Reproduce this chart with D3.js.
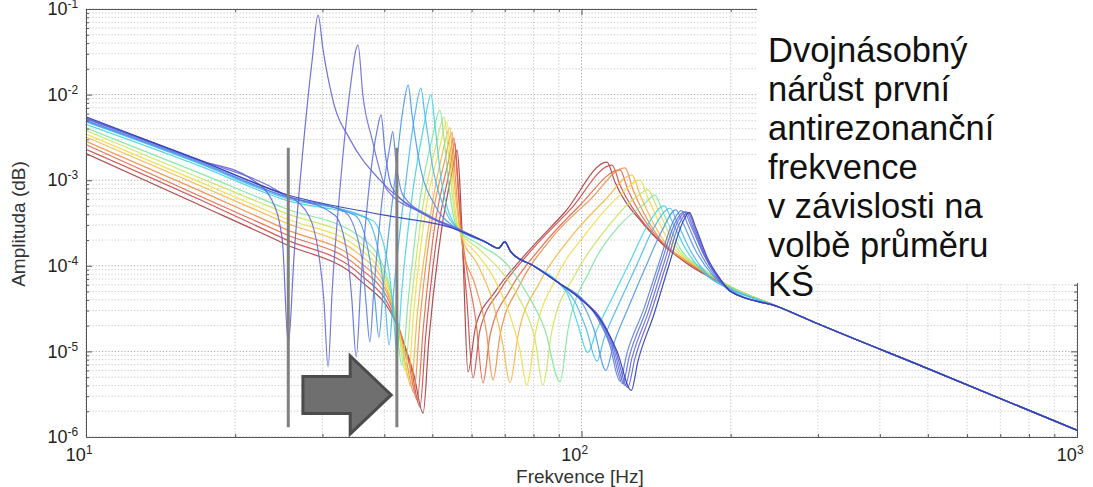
<!DOCTYPE html>
<html>
<head>
<meta charset="utf-8">
<script src="https://cdn.jsdelivr.net/npm/d3@7"></script>
<style>
  body { margin: 0; background: #fff; }
  svg { display: block; font-family: "Liberation Sans", Arial, sans-serif; }
</style>
</head>
<body>
<svg id="chart" width="1093" height="487"></svg>
<script>
// ---- data (frequency in Hz, amplitude) ----
const xDecades = [10, 100, 1000];
const yDecades = [1e-6, 1e-5, 1e-4, 1e-3, 1e-2, 1e-1];

// shared piece of the blue curves between the first and second mode
const trunkHz = [64, 68, 70, 72, 80, 90];
const trunkAmp = [1.9e-4, 1.6e-4, 1.9e-4, 1.45e-4, 1.0e-4, 6.3e-5];

// shared high-frequency tail
const tailHz = [250, 300, 500, 1000];
const tailAmp = [3.3e-5, 2.1e-5, 6.3e-6, 1.2e-6];

// blue/cyan curves (0..7): low part up to ~56 Hz
const blueLowHz = [
  [10, 17, 25, 40, 55],
  [10, 17, 21.4, 23.7, 24.9, 25.6, 26.3, 27.4, 28.6, 29.4, 30.1, 31.5, 34.1, 39.2, 47.2, 55],
  [10, 17, 24.6, 27.7, 29.4, 30.2, 30.8, 31.4, 32.6, 34.1, 35.4, 36.2, 37.8, 40.5, 47.2, 55.5],
  [10, 17, 25.2, 31.8, 33.8, 34.4, 35.1, 35.9, 37.4, 38.7, 39.4, 40.1, 41.5, 48.3, 55.8],
  [10, 17, 25.2, 33.3, 36.1, 36.7, 37.4, 38.1, 39.8, 41.1, 41.6, 42.2, 43.6, 49.5, 56.1],
  [10, 17, 25.2, 34.9, 37.4, 38.3, 39.0, 39.9, 42.0, 43.6, 44.7, 45.5, 47.2, 50.6, 55.8],
  [10, 17, 25.2, 36.6, 39.2, 40.1, 40.9, 41.8, 44.0, 46.1, 47.4, 48.3, 50.2, 53.0, 56.1],
  [10, 17, 25.2, 37.8, 40.7, 41.6, 42.4, 43.4, 45.7, 48.1, 49.7, 50.6, 52.3, 56.1]
];
const blueLowAmp = [
  [5.5e-3, 1.7e-3, 7e-4, 3.9e-4, 2.75e-4],
  [5.3e-3, 1.7e-3, 1.06e-3, 5.9e-4, 2.0e-4, 1.2e-5, 1.34e-4, 2.25e-3, 2.5e-2, 8.5e-2, 3.3e-2, 8.6e-3, 3.0e-3, 1.0e-3, 4.25e-4, 2.75e-4],
  [5.3e-3, 1.72e-3, 7.3e-4, 4.5e-4, 1.53e-4, 4.0e-5, 6.6e-6, 5.2e-5, 8.8e-4, 1.13e-2, 3.8e-2, 9.9e-3, 3.0e-3, 7.7e-4, 4.25e-4, 2.75e-4],
  [5.2e-3, 1.68e-3, 6.7e-4, 3.9e-4, 1.17e-4, 4.0e-5, 8.6e-6, 6.8e-5, 1.0e-3, 3.9e-3, 5.8e-3, 2.25e-3, 8.1e-4, 4.0e-4, 2.75e-4],
  [5.0e-3, 1.63e-3, 6.5e-4, 4.25e-4, 1.17e-4, 4.0e-5, 1.29e-5, 5.2e-5, 7.7e-4, 2.6e-3, 3.7e-3, 1.72e-3, 6.7e-4, 3.8e-4, 2.75e-4],
  [4.9e-3, 1.59e-3, 6.4e-4, 3.9e-4, 1.17e-4, 4.0e-5, 1.47e-5, 6.8e-5, 1.0e-3, 6.6e-3, 1.29e-2, 5.8e-3, 1.5e-3, 5.1e-4, 2.75e-4],
  [4.8e-3, 1.55e-3, 6.2e-4, 3.7e-4, 1.17e-4, 4.0e-5, 1.19e-5, 5.2e-5, 7.7e-4, 5.8e-3, 1.19e-2, 5.8e-3, 1.32e-3, 4.5e-4, 2.75e-4],
  [4.5e-3, 1.46e-3, 5.9e-4, 3.4e-4, 1.02e-4, 3.5e-5, 9.8e-6, 5.2e-5, 7.7e-4, 4.4e-3, 9.9e-3, 4.4e-3, 8.8e-4, 2.8e-4]
];

// blue/cyan curves (0..7): second antiresonance + resonance
const blueHighHz = [
  [100, 110, 118, 126, 130, 140, 150, 160, 165, 170, 180, 190, 200],
  [100, 110, 117, 124, 128, 138, 148, 158, 164, 169, 179, 190, 200],
  [100, 109, 116, 122.5, 126.5, 136.5, 146.5, 156.5, 162.5, 167.5, 178, 190, 200],
  [100, 108, 115, 121, 125, 135, 145, 155, 161, 166, 177, 190, 200],
  [100, 107, 114, 119.5, 123.5, 133.5, 143.5, 153.5, 159, 164, 175, 190, 200],
  [100, 106, 112, 116, 125, 135, 145, 155, 160, 170, 185, 200],
  [97, 102, 107.5, 111, 120, 130, 140, 151, 156, 166, 182, 200],
  [94, 98, 103, 107, 116, 126, 136, 147, 152, 162, 180, 200]
];
const blueHighAmp = [
  [4.0e-5, 2.2e-5, 1.0e-5, 3.5e-6, 7.7e-6, 2.7e-5, 1.0e-4, 3.2e-4, 4.2e-4, 2.8e-4, 1.2e-4, 7.2e-5, 5.0e-5],
  [4.0e-5, 2.3e-5, 1.05e-5, 3.8e-6, 8e-6, 2.8e-5, 1.0e-4, 3.2e-4, 4.2e-4, 2.8e-4, 1.2e-4, 7.0e-5, 5.0e-5],
  [4.1e-5, 2.4e-5, 1.1e-5, 4.0e-6, 8.5e-6, 2.9e-5, 1.05e-4, 3.3e-4, 4.3e-4, 2.9e-4, 1.25e-4, 6.9e-5, 5.0e-5],
  [4.1e-5, 2.5e-5, 1.15e-5, 4.2e-6, 9e-6, 3e-5, 1.1e-4, 3.3e-4, 4.3e-4, 3e-4, 1.3e-4, 6.8e-5, 5e-5],
  [4.2e-5, 2.6e-5, 1.2e-5, 4.5e-6, 9.5e-6, 3.1e-5, 1.1e-4, 3.4e-4, 4.4e-4, 3.0e-4, 1.3e-4, 6.6e-5, 5.0e-5],
  [3.8e-5, 1.8e-5, 6e-6, 1.2e-5, 3.5e-5, 1.0e-4, 2.5e-4, 4.5e-4, 3.2e-4, 1.5e-4, 7.5e-5, 5.2e-5],
  [3.8e-5, 1.9e-5, 7.7e-6, 1.4e-5, 4e-5, 1.1e-4, 2.8e-4, 4.7e-4, 3.2e-4, 1.5e-4, 7.3e-5, 5.3e-5],
  [4.5e-5, 2.2e-5, 9.7e-6, 1.7e-5, 4.5e-5, 1.2e-4, 3.0e-4, 5.0e-4, 3.4e-4, 1.6e-4, 7.5e-5, 5.4e-5]
];

// green..dark red curves (8..15), 10-200 Hz
const warmHz = [
  [10, 17, 25.2, 35.7, 40.1, 42.2, 43.4, 44.7, 47.2, 49.9, 51.8, 52.8, 54.3, 56.1, 62.4, 70.1, 76.9, 84.4, 90.5, 93.9, 104, 119.6, 134.4, 140.7, 145.4, 158.1, 177.6, 202],
  [10, 17, 25.2, 35.7, 40.1, 42.6, 44.0, 45.3, 47.9, 50.9, 52.8, 53.8, 55.0, 56.3, 62.4, 68.5, 75.1, 80.6, 83.6, 87.2, 97.0, 111.6, 128.2, 136.2, 141.4, 154.4, 175.9, 202],
  [10, 17, 25.2, 35.7, 40.5, 43.0, 44.7, 45.9, 48.5, 51.6, 53.5, 54.5, 55.5, 56.6, 61.8, 66.9, 71.7, 75.1, 77.6, 80.6, 88.4, 101.6, 119.6, 131.3, 136.2, 149.5, 173.5, 201],
  [10, 17, 25.2, 35.7, 40.7, 43.4, 45.3, 46.6, 49.2, 52.3, 54.3, 55.0, 56.1, 57.1, 61.8, 66.0, 69.4, 71.7, 74.5, 82.5, 94.8, 111.6, 126.4, 131.3, 145.4, 171.9, 200],
  [10, 17, 25.2, 35.7, 41.1, 44.0, 45.9, 47.2, 49.9, 53.0, 54.8, 55.5, 56.6, 57.7, 61.0, 64.2, 66.3, 68.5, 75.1, 86.4, 104, 122.4, 127.1, 142.0, 170.3, 199.4],
  [10, 17, 25.2, 35.7, 41.5, 44.7, 46.6, 47.9, 50.6, 53.8, 55.3, 56.1, 57.1, 58.5, 61.2, 63.3, 65.4, 71.7, 82.5, 99.3, 119.6, 124.1, 139.4, 168.7, 199.4],
  [10, 17, 25.2, 35.7, 41.8, 45.3, 47.2, 48.5, 51.3, 54.3, 55.5, 56.3, 57.4, 58.7, 60.4, 62.4, 68.5, 78.7, 94.8, 115.2, 119.6, 136.2, 165.6, 199.4],
  [10, 17, 25.2, 35.7, 42.2, 45.9, 47.9, 49.2, 52.0, 54.8, 56.1, 56.9, 57.7, 59.0, 61.2, 66.9, 76.9, 92.6, 112.6, 116.8, 133.1, 161.8, 199.4]
];
const warmAmp = [
  [4.1e-3, 1.2e-3, 4.7e-4, 2.2e-4, 8.9e-5, 2.3e-5, 6.9e-6, 4.0e-5, 5.9e-4, 3.0e-3, 6.6e-3, 3.0e-3, 6.7e-4, 2.75e-4, 1.75e-4, 1.1e-4, 5.2e-5, 1.78e-5, 4.4e-6, 1.78e-5, 8.9e-5, 3.0e-4, 5.4e-4, 6.7e-4, 4.5e-4, 1.6e-4, 8.9e-5, 5.5e-5],
  [3.8e-3, 1.06e-3, 4.15e-4, 1.85e-4, 7.8e-5, 2.0e-5, 6.1e-6, 3.5e-5, 5.1e-4, 2.6e-3, 5.5e-3, 2.25e-3, 5.9e-4, 2.75e-4, 1.53e-4, 8.9e-5, 4.0e-5, 1.36e-5, 4.05e-6, 1.78e-5, 7.8e-5, 2.6e-4, 6.2e-4, 7.7e-4, 5.1e-4, 1.75e-4, 8.9e-5, 5.5e-5],
  [3.45e-3, 9.5e-4, 3.6e-4, 1.57e-4, 6.0e-5, 1.56e-5, 4.9e-6, 3.05e-5, 4.5e-4, 2.25e-3, 4.8e-3, 1.72e-3, 5.1e-4, 2.6e-4, 1.34e-4, 6.8e-5, 2.65e-5, 1.04e-5, 4.05e-6, 1.56e-5, 6.8e-5, 2.3e-4, 6.7e-4, 1.0e-3, 6.2e-4, 2.0e-4, 9.4e-5, 5.65e-5],
  [3.2e-3, 8.6e-4, 3.2e-4, 1.34e-4, 4.95e-5, 1.19e-5, 3.95e-6, 2.65e-5, 3.0e-4, 1.97e-3, 4.1e-3, 1.5e-3, 4.5e-4, 2.3e-4, 1.02e-4, 4.0e-5, 1.19e-5, 4.3e-6, 1.56e-5, 6.5e-5, 2.1e-4, 5.9e-4, 1.15e-3, 6.7e-4, 2.1e-4, 9.4e-5, 5.65e-5],
  [2.85e-3, 7.5e-4, 2.7e-4, 1.1e-4, 4.0e-5, 9.8e-6, 3.3e-6, 2.3e-5, 3.4e-4, 1.72e-3, 3.6e-3, 1.32e-3, 3.4e-4, 1.53e-4, 6.0e-5, 1.78e-5, 4.6e-6, 1.56e-5, 6.0e-5, 2.0e-4, 5.9e-4, 1.39e-3, 7.7e-4, 2.3e-4, 9.7e-5, 5.65e-5],
  [2.6e-3, 6.5e-4, 2.35e-4, 9.4e-5, 3.2e-5, 7.9e-6, 2.7e-6, 1.78e-5, 3.0e-4, 1.59e-3, 3.1e-3, 1.15e-3, 3.0e-4, 1.02e-4, 2.3e-5, 4.3e-6, 1.56e-5, 5.2e-5, 1.6e-4, 5.1e-4, 1.32e-3, 7.7e-4, 2.5e-4, 1.0e-4, 5.65e-5],
  [2.3e-3, 5.9e-4, 2.05e-4, 8.0e-5, 2.6e-5, 6.4e-6, 2.25e-6, 1.56e-5, 2.6e-4, 1.39e-3, 2.7e-3, 1.0e-3, 2.0e-4, 4.0e-5, 4.9e-6, 1.78e-5, 5.2e-5, 1.45e-4, 4.5e-4, 1.5e-3, 8.8e-4, 2.75e-4, 1.05e-4, 5.65e-5],
  [2.05e-3, 5.1e-4, 1.8e-4, 6.8e-5, 2.15e-5, 5.3e-6, 1.9e-6, 1.36e-5, 2.3e-4, 1.25e-3, 2.25e-3, 7.7e-4, 1.17e-4, 5.75e-6, 2.0e-5, 4.95e-5, 1.34e-4, 4.25e-4, 1.63e-3, 9.5e-4, 3.1e-4, 1.1e-4, 5.65e-5]
];

const curveColors = [
  "#2c3cb4", "#6262d4", "#6a6ad8", "#5c70dc", "#5a80e0", "#4a98ea", "#44b8f0", "#40d4e4",
  "#80e4a0", "#c8e458", "#f2dc40", "#f6b440", "#f08c44", "#e46444", "#cc4848", "#a43c3c"
];

// annotation: the two marker lines and the arrow between them
const markerHz = [25.6, 42.4];
const markerAmp = [2.4e-3, 1.3e-6];
const arrowHz = [27.4, 41.3];
const arrowAmp = 3.1e-6;

const noteLines = [
  "Dvojnásobný", "nárůst první", "antirezonanční", "frekvence",
  "v závislosti na", "volbě průměru", "KŠ"
];

// ---- build series ----
const series = [];
blueLowHz.forEach((lowHz, i) => {
  const hz = lowHz.concat(trunkHz, blueHighHz[i], tailHz);
  const amp = blueLowAmp[i].concat(trunkAmp, blueHighAmp[i], tailAmp);
  series.push({ color: curveColors[i], points: d3.zip(hz, amp) });
});
warmHz.forEach((hz, i) => {
  const pts = d3.zip(hz.concat(tailHz), warmAmp[i].concat(tailAmp));
  series.push({ color: curveColors[8 + i], points: pts });
});

// ---- layout ----
const plot = { left: 86, right: 1077, top: 9, bottom: 437 };
const svg = d3.select("#chart");

const x = d3.scaleLog().domain([10, 1000]).range([plot.left, plot.right]);
const y = d3.scaleLog().domain([1e-6, 1e-1]).range([plot.bottom, plot.top]);

const minorX = [];
[10, 100].forEach((d) => { for (let k = 2; k <= 9; k++) minorX.push(d * k); });
const minorY = [];
yDecades.slice(0, -1).forEach((d) => { for (let k = 2; k <= 9; k++) minorY.push(d * k); });

// grid
const grid = svg.append("g").attr("class", "grid");
grid.selectAll(".gx")
  .data(minorX.concat(xDecades))
  .join("line")
  .attr("x1", x).attr("x2", x)
  .attr("y1", plot.top).attr("y2", plot.bottom)
  .attr("stroke", (d) => (xDecades.includes(d) ? "#a8a8a8" : "#c8c8c8"))
  .attr("stroke-dasharray", "1.2,2")
  .attr("stroke-width", 1);
grid.selectAll(".gy")
  .data(minorY.concat(yDecades))
  .join("line")
  .attr("y1", y).attr("y2", y)
  .attr("x1", plot.left).attr("x2", plot.right)
  .attr("stroke", (d) => (yDecades.includes(d) ? "#a8a8a8" : "#c8c8c8"))
  .attr("stroke-dasharray", "1.2,2")
  .attr("stroke-width", 1);

// curves
svg.append("clipPath").attr("id", "clip")
  .append("rect")
  .attr("x", plot.left).attr("y", plot.top)
  .attr("width", plot.right - plot.left).attr("height", plot.bottom - plot.top);

const line = d3.line()
  .x((d) => x(d[0]))
  .y((d) => y(d[1]))
  .curve(d3.curveMonotoneX);

svg.append("g")
  .attr("clip-path", "url(#clip)")
  .selectAll("path")
  .data(series.slice().reverse())
  .join("path")
  .attr("d", (d) => line(d.points))
  .attr("fill", "none")
  .attr("stroke", (d) => d.color)
  .attr("stroke-width", 1.2)
  .attr("stroke-opacity", 0.9)
  .attr("stroke-linejoin", "round");

// axes (ticks inside like MATLAB)
const fmtPow = function (sel) {
  sel.selectAll(".tick text").each(function (d) {
    const t = d3.select(this);
    const e = Math.round(Math.log10(d));
    t.text(null);
    t.append("tspan").text("10");
    t.append("tspan").attr("dy", "-0.6em").attr("font-size", "0.66em").text(e);
  });
};

const axes = svg.append("g").attr("class", "axes");

const xAxis = axes.append("g")
  .attr("transform", `translate(0,${plot.bottom})`)
  .call(d3.axisBottom(x).tickValues(xDecades).tickSize(-6).tickPadding(11))
  .call(fmtPow);
xAxis.selectAll(".tick text")
  .attr("font-size", 18).attr("fill", "#222")
  .attr("x", 6).attr("text-anchor", "end");

axes.append("g")
  .attr("transform", `translate(0,${plot.bottom})`)
  .call(d3.axisBottom(x).tickValues(minorX).tickSize(-3).tickFormat(""));
axes.append("g")
  .attr("transform", `translate(0,${plot.top})`)
  .call(d3.axisTop(x).tickValues(xDecades).tickSize(-6).tickFormat(""));
axes.append("g")
  .attr("transform", `translate(0,${plot.top})`)
  .call(d3.axisTop(x).tickValues(minorX).tickSize(-3).tickFormat(""));

const yAxis = axes.append("g")
  .attr("transform", `translate(${plot.left},0)`)
  .call(d3.axisLeft(y).tickValues(yDecades).tickSize(-6).tickPadding(8))
  .call(fmtPow);
yAxis.selectAll(".tick text").attr("font-size", 18).attr("fill", "#222");

axes.append("g")
  .attr("transform", `translate(${plot.left},0)`)
  .call(d3.axisLeft(y).tickValues(minorY).tickSize(-3).tickFormat(""));
axes.append("g")
  .attr("transform", `translate(${plot.right},0)`)
  .call(d3.axisRight(y).tickValues(yDecades).tickSize(-6).tickFormat(""));
axes.append("g")
  .attr("transform", `translate(${plot.right},0)`)
  .call(d3.axisRight(y).tickValues(minorY).tickSize(-3).tickFormat(""));

axes.selectAll(".domain").attr("stroke", "#555");
axes.selectAll(".tick line").attr("stroke", "#555");

// axis titles
svg.append("text")
  .attr("x", 580)
  .attr("y", 482.5)
  .attr("text-anchor", "middle")
  .attr("font-size", 19)
  .attr("fill", "#333")
  .text("Frekvence [Hz]");

svg.append("text")
  .attr("transform", "translate(25,224) rotate(-90)")
  .attr("text-anchor", "middle")
  .attr("font-size", 19)
  .attr("fill", "#333")
  .text("Amplituda (dB)");

// marker lines + arrow
svg.append("g")
  .selectAll("line")
  .data(markerHz)
  .join("line")
  .attr("x1", x).attr("x2", x)
  .attr("y1", y(markerAmp[0])).attr("y2", y(markerAmp[1]))
  .attr("stroke", "#808080")
  .attr("stroke-width", 3);

const ax0 = x(arrowHz[0]);
const ax1 = x(arrowHz[1]);
const ay = y(arrowAmp);
const headLen = 41;
const bodyHalf = 18.5;
const headHalf = 39;
svg.append("path")
  .attr("d", d3.line()([
    [ax0, ay - bodyHalf], [ax1 - headLen, ay - bodyHalf], [ax1 - headLen, ay - headHalf],
    [ax1, ay], [ax1 - headLen, ay + headHalf], [ax1 - headLen, ay + bodyHalf],
    [ax0, ay + bodyHalf]
  ]) + "Z")
  .attr("fill", "#6f6f6f")
  .attr("stroke", "#4c4c4c")
  .attr("stroke-width", 3)
  .attr("stroke-linejoin", "miter");

// note box over the upper right of the plot
svg.append("rect")
  .attr("x", 757).attr("y", 0)
  .attr("width", 336).attr("height", 283)
  .attr("fill", "#fff");

svg.append("g")
  .selectAll("text")
  .data(noteLines)
  .join("text")
  .attr("x", 768)
  .attr("y", (d, i) => 62 + i * 39)
  .attr("font-size", 34.5)
  .attr("fill", "#111")
  .text((d) => d);
</script>
</body>
</html>
